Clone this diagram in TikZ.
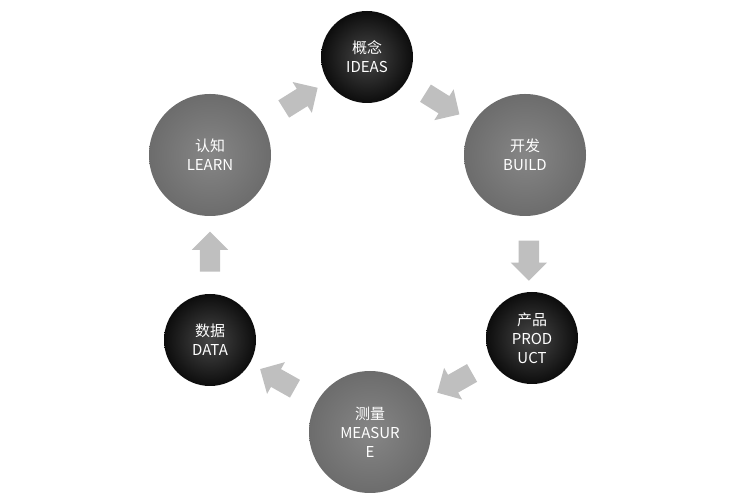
\documentclass[tikz,border=0pt]{standalone}
\usepackage{fontspec}
\setmainfont{Noto Sans CJK SC}
\usetikzlibrary{shapes.arrows,calc}

\tikzset{
  stage/.style={circle,draw=none,text=white,align=center,font=\fontsize{15}{19}\selectfont},
  big/.style={stage,minimum size=122pt,inner color=gray!95,outer color=gray!85!black},
  small/.style={stage,minimum size=92pt,inner color=gray!55!black,outer color=black!95},
  blk/.style={single arrow,fill=gray!50,draw=none,minimum height=40pt,
    single arrow head extend=8pt,inner xsep=0pt,inner ysep=10pt}
}

\begin{document}
\begin{tikzpicture}[x=1pt,y=1pt]
    \useasboundingbox (0,0) rectangle (736,500);

    % the six stages
    \node[small] (ideas)   at (367,443) {概念\\IDEAS};
    \node[big]   (build)   at (525,345) {开发\\BUILD};
    \node[small] (product) at (532,162) {产品\\PROD\\UCT};
    \node[big]   (measure) at (370,68)  {测量\\MEASUR\\E};
    \node[small] (data)    at (210,160) {数据\\DATA};
    \node[big]   (learn)   at (210,345) {认知\\LEARN};

    % block arrows between them
    \node[blk,rotate=32]    (a1) at ($(learn)!0.55!(ideas)$) {};
    \node[blk,rotate=-32]   (a2) at ($(ideas)!0.45!(build)$) {};
    \node[blk,rotate=-90]   (a3) at ($(build)!0.55!(product)$) {};
    \node[blk,rotate=209.6] (a4) at ($(product)!0.45!(measure)$) {};
    \node[blk,rotate=150.6] (a5) at ($(measure)!0.55!(data)$) {};
    \node[blk,rotate=90]    (a6) at ($(data)!0.45!(learn)$) {};
\end{tikzpicture}
\end{document}
